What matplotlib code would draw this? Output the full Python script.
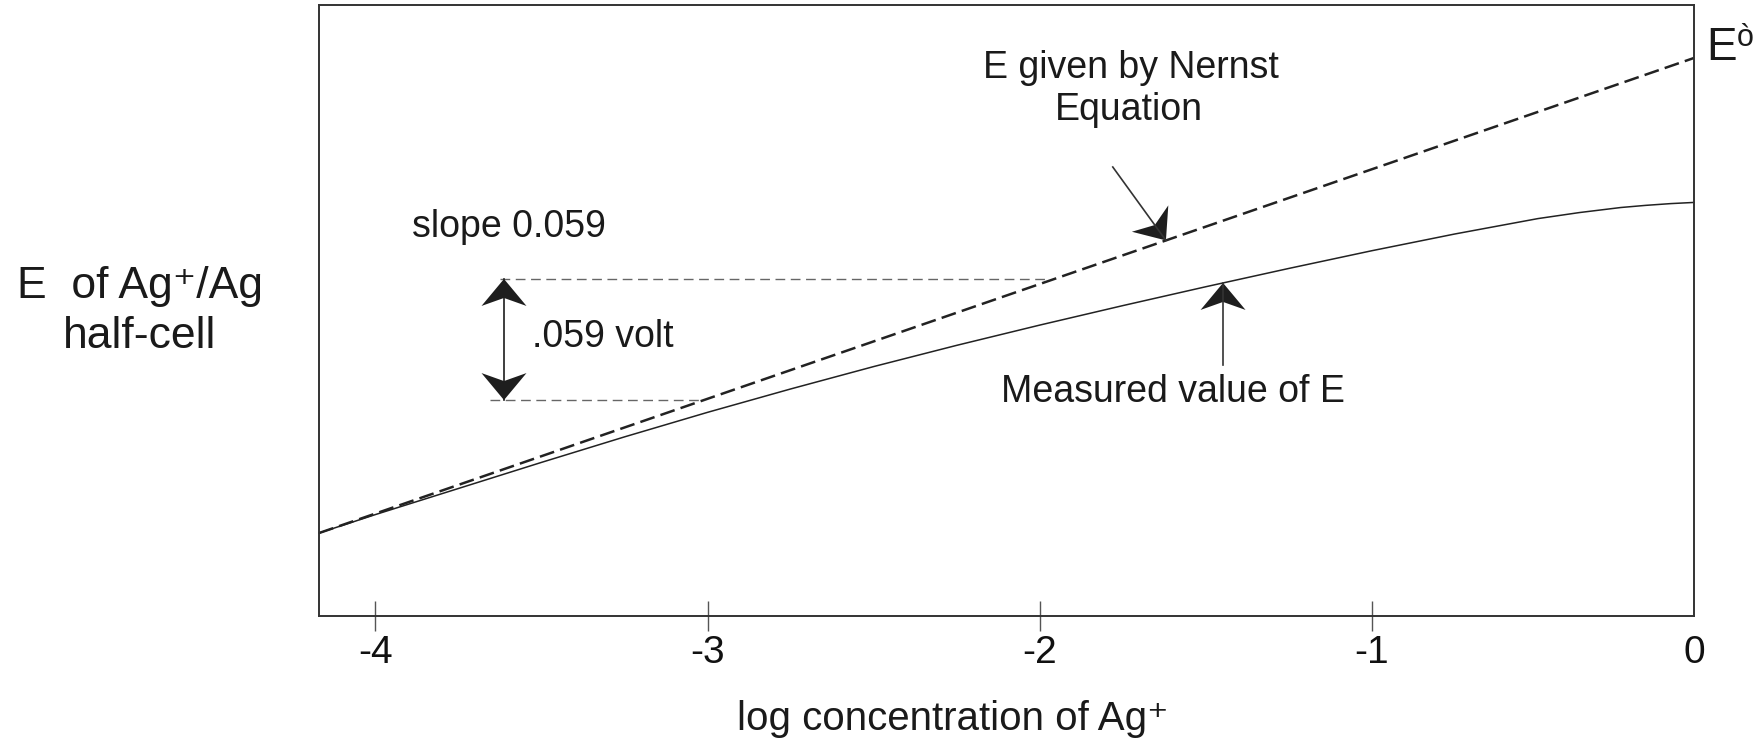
import numpy as np
import matplotlib
matplotlib.use("Agg")
import matplotlib.pyplot as plt
from matplotlib.patches import Polygon
from matplotlib.transforms import IdentityTransform

plt.rcParams['font.family'] = ['Liberation Sans', 'DejaVu Sans']
plt.rcParams['axes.unicode_minus'] = False

# data (x = log[Ag+], y = E in volts)
nernst_x = [-4.17, -0.03]
nernst_y = [0.553, 0.797]
measured_x = [-4.17, -4.0, -3.75, -3.5, -3.25, -3.0, -2.75, -2.5, -2.25, -2.0, -1.75, -1.5,
              -1.25, -1.0, -0.75, -0.5, -0.375, -0.25, -0.175, -0.1, -0.03]
measured_y = [0.553, 0.5625, 0.5759, 0.5893, 0.6024, 0.6150, 0.6270, 0.6385, 0.6494, 0.6598,
              0.6698, 0.6795, 0.6889, 0.6980, 0.7066, 0.7145, 0.7176, 0.7202, 0.7213, 0.7222, 0.7228]
step_x_start = [-3.625, -3.655]
step_x_end = [-1.98, -3.01]
step_y = [0.6835, 0.6213]
tick_pos = [-4, -3, -2, -1, -0.03]
tick_labels = ['-4', '-3', '-2', '-1', '0']

W, H = 1765, 742
fig = plt.figure(figsize=(W / 100, H / 100), dpi=100)
ax = fig.add_axes([319 / W, 1 - 616 / H, (1694 - 319) / W, (616 - 5) / H])
ax.set_xlim(-4.17, -0.03)
ax.set_ylim(0.5104, 0.8242)

def fx(px):
    return px / W

def fy(py):
    return 1 - py / H

def nernst(x):
    return np.interp(x, nernst_x, nernst_y)

def measured(x):
    return np.interp(x, measured_x, measured_y)

# curves
ax.plot(nernst_x, nernst_y, color='#222222', lw=1.8, dashes=(6, 2.5), clip_on=False)
ax.plot(measured_x, measured_y, color='#222222', lw=1.1, clip_on=False)

# guide lines for the .059 volt step
for x0, x1, y in zip(step_x_start, step_x_end, step_y):
    ax.plot([x0, x1], [y, y], color='#666666', lw=1.0, dashes=(7, 4))

for s in ax.spines.values():
    s.set_color('#333333')
    s.set_linewidth(1.4)
ax.set_yticks([])
ax.set_xticks(tick_pos, tick_labels)
ax.tick_params(axis='x', direction='inout', length=22, width=1.0, color='#555555',
               labelsize=28, pad=3, labelcolor='#111111')
ax.xaxis.get_major_ticks()[-1].tick1line.set_visible(False)


def head(tip, tail, L=27, hw=22.5, notch=19):
    # stealth style arrow head, built in display pixels
    t = ax.transData.transform(tip)
    b = ax.transData.transform(tail)
    d = (t - b) / np.hypot(*(t - b))
    n = np.array([-d[1], d[0]])
    pts = [t, t - L * d + hw * n, t - notch * d, t - L * d - hw * n]
    ax.add_patch(Polygon(pts, closed=True, facecolor='#1e1e1e', edgecolor='none',
                         transform=IdentityTransform(), clip_on=False))


def arrow(tip, tail, lw=1.2):
    ax.plot([tail[0], tip[0]], [tail[1], tip[1]], color='#333333', lw=lw, clip_on=False)
    head(tip, tail)


# Nernst arrow
tip_n = (-1.62, nernst(-1.62))
arrow(tip_n, (-1.78, 0.741))
# measured arrow
tip_m = (-1.448, measured(-1.448))
arrow(tip_m, (-1.448, 0.6393))
# double arrow
xa = -3.613
ax.plot([xa, xa], [step_y[1], step_y[0]], color='#1e1e1e', lw=1.2)
head((xa, step_y[0]), (xa, step_y[1]))
head((xa, step_y[1]), (xa, step_y[0]))

# texts
tk = dict(transform=fig.transFigure, va='baseline', color='#1a1a1a')
fig.text(fx(1131), fy(78), 'E given by Nernst', ha='center', fontsize=27, **tk)
fig.text(fx(1129), fy(120), 'Equation', ha='center', fontsize=27, **tk)
fig.text(fx(412), fy(237), 'slope 0.059', ha='left', fontsize=27, **tk)
fig.text(fx(532), fy(347), '.059 volt', ha='left', fontsize=27, **tk)
fig.text(fx(1173), fy(402), 'Measured value of E', ha='center', fontsize=27, **tk)
fig.text(fx(140), fy(298), 'E  of Ag\u207a/Ag', ha='center', fontsize=32, **tk)
fig.text(fx(140), fy(348), 'half-cell', ha='center', fontsize=32, **tk)
fig.text(fx(737), fy(730), 'log concentration of Ag\u207a', ha='left', fontsize=29, **tk)
fig.text(fx(1706), fy(60), 'E', ha='left', fontsize=33, **tk)
fig.text(fx(1737), fy(46), '\u00f2', ha='left', fontsize=22, **tk)

fig.savefig('out.png', dpi=100)
